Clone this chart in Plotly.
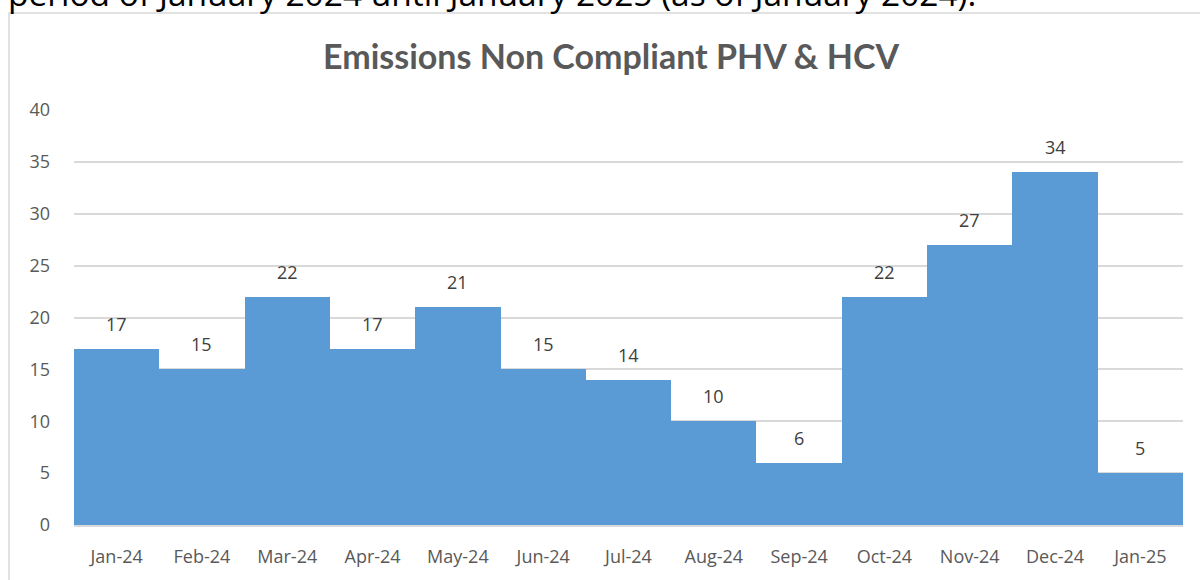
import plotly.graph_objects as go

months = ["Jan-24", "Feb-24", "Mar-24", "Apr-24", "May-24", "Jun-24", "Jul-24",
          "Aug-24", "Sep-24", "Oct-24", "Nov-24", "Dec-24", "Jan-25"]
counts = [17, 15, 22, 17, 21, 15, 14, 10, 6, 22, 27, 34, 5]
y_ticks = [0, 5, 10, 15, 20, 25, 30, 35, 40]

W, H = 1200, 580
L, R, T, B = 74, 1183, 110, 525


def xp(px):
    return (px - L) / (R - L)


def yp(py):
    return (B - py) / (B - T)


TFONT = "Lato"
FONT = "Open Sans"
GRAY = "#595959"

fig = go.Figure(go.Bar(
    x=months, y=counts,
    marker=dict(color="#5B9BD5", line=dict(width=0)),
    hoverinfo="x+y",
))

label_annotations = [
    dict(x=m, y=v, xref="x", yref="y", text=str(v), showarrow=False,
         xanchor="center", yanchor="middle", yshift=25,
         font=dict(family=FONT, size=18, color="#404040"))
    for m, v in zip(months, counts)
]

fig.update_layout(
    width=W, height=H,
    margin=dict(l=L, r=W - R, t=T, b=H - B, pad=0, autoexpand=False),
    paper_bgcolor="white", plot_bgcolor="white",
    bargap=0, showlegend=False,
    font=dict(family=FONT, color=GRAY),
    xaxis=dict(showgrid=False, showline=True, linecolor="#D9D9D9", linewidth=1.5,
               tickfont=dict(family=FONT, size=18, color=GRAY), ticks="",
               ticklabelstandoff=15, automargin=False),
    yaxis=dict(range=[0, 40], tickvals=y_ticks, showgrid=True, gridcolor="#D9D9D9",
               gridwidth=1.5, zeroline=False, showline=False, ticks="",
               tickfont=dict(family=FONT, size=18, color=GRAY), ticklabelstandoff=23,
               automargin=False),
    annotations=[
        dict(text="<b>Emissions Non Compliant PHV &amp; HCV</b>", x=xp(611), y=yp(56),
             xref="paper", yref="paper", showarrow=False, xanchor="center", yanchor="middle",
             font=dict(family=TFONT, size=34, color=GRAY)),
        dict(text="period of January 2024 until January 2025 (as of January 2024).",
             x=xp(6), y=yp(-7), xref="paper", yref="paper", showarrow=False,
             xanchor="left", yanchor="middle",
             font=dict(family=FONT, size=33.5, color="black")),
    ] + label_annotations,
    shapes=[
        dict(type="rect", xref="paper", yref="paper", x0=xp(9), x1=xp(1210), y0=yp(13), y1=yp(600),
             line=dict(color="#D9D9D9", width=1.5), fillcolor="rgba(0,0,0,0)", layer="below"),
    ],
)

fig.write_html("out.html", config={"displayModeBar": False},
               post_script="document.body.style.margin='0';document.body.style.overflow='hidden';")
